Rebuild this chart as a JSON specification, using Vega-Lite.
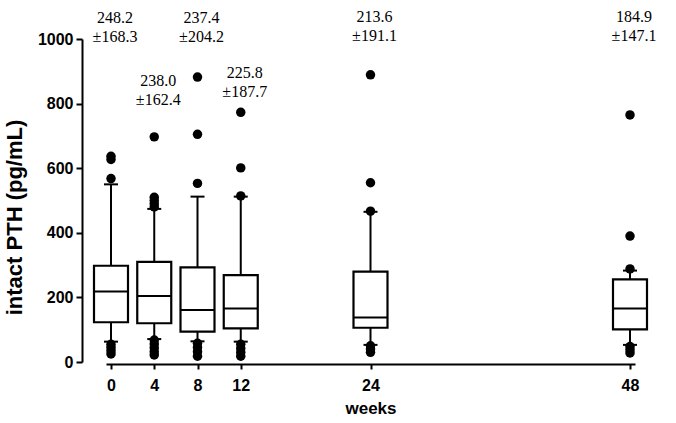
{
  "$schema": "https://vega.github.io/schema/vega-lite/v6.json",
  "width": 529,
  "height": 323,
  "autosize": "none",
  "padding": {"left": 106, "top": 39, "right": 41, "bottom": 61},
  "background": "white",
  "config": {"view": {"stroke": null}, "axis": {"grid": false}},
  "datasets": {
    "stats": [
      {"week": 0, "lo": 63, "q1": 123, "med": 218, "q3": 298, "hi": 550, "m": "248.2", "s": "±168.3", "ly": 1066},
      {"week": 4, "lo": 71, "q1": 120, "med": 204, "q3": 310, "hi": 474, "m": "238.0", "s": "±162.4", "ly": 871},
      {"week": 8, "lo": 64, "q1": 94, "med": 161, "q3": 293, "hi": 512, "m": "237.4", "s": "±204.2", "ly": 1066},
      {"week": 12, "lo": 63, "q1": 104, "med": 166, "q3": 269, "hi": 512, "m": "225.8", "s": "±187.7", "ly": 896},
      {"week": 24, "lo": 53, "q1": 106, "med": 138, "q3": 280, "hi": 465, "m": "213.6", "s": "±191.1", "ly": 1068},
      {"week": 48, "lo": 53, "q1": 101, "med": 166, "q3": 256, "hi": 283, "m": "184.9", "s": "±147.1", "ly": 1068}
    ],
    "out": [
      {"week": 0, "v": 637}, {"week": 0, "v": 627}, {"week": 0, "v": 568},
      {"week": 0, "v": 55}, {"week": 0, "v": 45}, {"week": 0, "v": 35}, {"week": 0, "v": 25},
      {"week": 4, "v": 697}, {"week": 4, "v": 510}, {"week": 4, "v": 500}, {"week": 4, "v": 490}, {"week": 4, "v": 480},
      {"week": 4, "v": 68}, {"week": 4, "v": 56}, {"week": 4, "v": 44}, {"week": 4, "v": 32}, {"week": 4, "v": 22},
      {"week": 8, "v": 882}, {"week": 8, "v": 705}, {"week": 8, "v": 553},
      {"week": 8, "v": 58}, {"week": 8, "v": 45}, {"week": 8, "v": 32}, {"week": 8, "v": 18},
      {"week": 12, "v": 773}, {"week": 12, "v": 601}, {"week": 12, "v": 514},
      {"week": 12, "v": 55}, {"week": 12, "v": 42}, {"week": 12, "v": 30}, {"week": 12, "v": 18},
      {"week": 24, "v": 889}, {"week": 24, "v": 555}, {"week": 24, "v": 467},
      {"week": 24, "v": 50}, {"week": 24, "v": 40}, {"week": 24, "v": 30},
      {"week": 48, "v": 765}, {"week": 48, "v": 390}, {"week": 48, "v": 288},
      {"week": 48, "v": 48}, {"week": 48, "v": 38}, {"week": 48, "v": 28}
    ]
  },
  "encoding": {
    "x": {
      "field": "week", "type": "quantitative",
      "scale": {"domain": [0, 48], "nice": false, "zero": false},
      "axis": {
        "values": [0, 4, 8, 12, 24, 48], "title": "weeks", "offset": 2,
        "domainWidth": 2, "domainColor": "black", "tickColor": "black", "tickWidth": 2, "tickSize": 5,
        "labelFont": "Liberation Sans", "labelFontWeight": "bold", "labelFontSize": 16, "labelColor": "black",
        "labelPadding": 8, "labelFlush": false,
        "titleFont": "Liberation Sans", "titleFontWeight": "bold", "titleFontSize": 17, "titleColor": "black",
        "titleY": 49, "titleBaseline": "alphabetic"
      }
    }
  },
  "layer": [
    {
      "data": {"name": "stats"},
      "mark": {"type": "rule", "color": "black", "strokeWidth": 2},
      "encoding": {
        "y": {
          "field": "lo", "type": "quantitative", "title": "intact PTH (pg/mL)",
          "scale": {"domain": [0, 1000], "nice": false},
          "axis": {
            "values": [0, 200, 400, 600, 800, 1000], "format": "d", "offset": 24,
            "domainWidth": 2, "domainColor": "black", "tickColor": "black", "tickWidth": 2, "tickSize": 6,
            "labelFont": "Liberation Sans", "labelFontWeight": "bold", "labelFontSize": 16, "labelColor": "black",
            "labelPadding": 3,
            "titleFont": "Liberation Sans", "titleFontWeight": "bold", "titleFontSize": 22, "titleColor": "black",
            "titleX": -56, "titleY": 178, "titleAngle": -90, "titleBaseline": "bottom", "titleAlign": "center"
          }
        },
        "y2": {"field": "q1"}
      }
    },
    {
      "data": {"name": "stats"},
      "mark": {"type": "rule", "color": "black", "strokeWidth": 2},
      "encoding": {"y": {"field": "q3", "type": "quantitative", "title": "intact PTH (pg/mL)"}, "y2": {"field": "hi"}}
    },
    {
      "data": {"name": "stats"},
      "mark": {"type": "tick", "orient": "horizontal", "color": "black", "size": 14, "thickness": 2, "opacity": 1},
      "encoding": {"y": {"field": "lo", "type": "quantitative", "title": "intact PTH (pg/mL)"}}
    },
    {
      "data": {"name": "stats"},
      "mark": {"type": "tick", "orient": "horizontal", "color": "black", "size": 14, "thickness": 2, "opacity": 1},
      "encoding": {"y": {"field": "hi", "type": "quantitative", "title": "intact PTH (pg/mL)"}}
    },
    {
      "data": {"name": "stats"},
      "mark": {"type": "bar", "fill": "white", "stroke": "black", "strokeWidth": 2.2, "size": 34},
      "encoding": {"y": {"field": "q1", "type": "quantitative", "title": "intact PTH (pg/mL)"}, "y2": {"field": "q3"}}
    },
    {
      "data": {"name": "stats"},
      "mark": {"type": "tick", "orient": "horizontal", "color": "black", "size": 34, "thickness": 2, "opacity": 1},
      "encoding": {"y": {"field": "med", "type": "quantitative", "title": "intact PTH (pg/mL)"}}
    },
    {
      "data": {"name": "out"},
      "mark": {"type": "point", "filled": true, "color": "black", "size": 90, "opacity": 1},
      "encoding": {"y": {"field": "v", "type": "quantitative", "title": "intact PTH (pg/mL)"}}
    },
    {
      "data": {"name": "stats"},
      "mark": {"type": "text", "font": "Liberation Serif", "fontSize": 16, "color": "black", "baseline": "middle", "align": "center", "dx": 4},
      "encoding": {"y": {"field": "ly", "type": "quantitative", "title": "intact PTH (pg/mL)"}, "text": {"field": "m"}}
    },
    {
      "data": {"name": "stats"},
      "mark": {"type": "text", "font": "Liberation Serif", "fontSize": 16, "color": "black", "baseline": "middle", "align": "center", "dx": 4, "dy": 19},
      "encoding": {"y": {"field": "ly", "type": "quantitative", "title": "intact PTH (pg/mL)"}, "text": {"field": "s"}}
    }
  ]
}
